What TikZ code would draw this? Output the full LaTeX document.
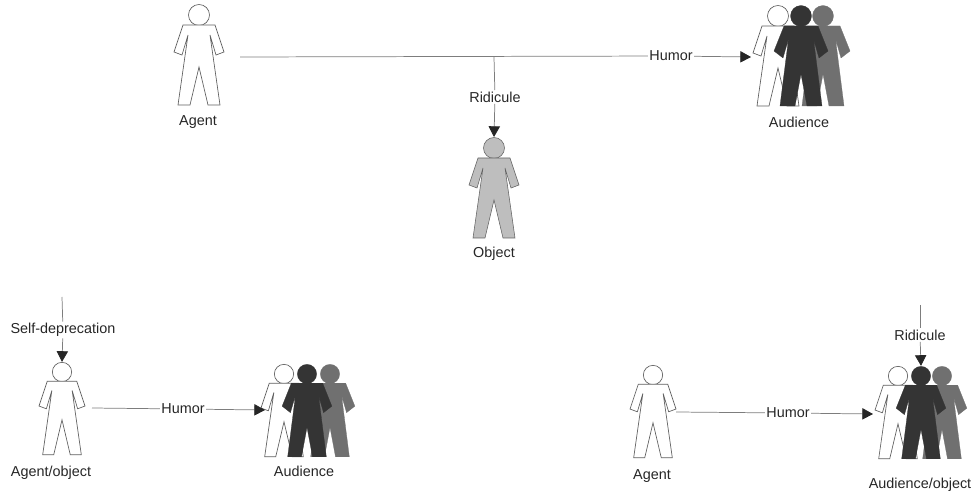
\documentclass[tikz,border=0pt]{standalone}
\usepackage{fontspec}
\setmainfont{Liberation Sans}
\usetikzlibrary{arrows.meta}
\definecolor{inkGrey}{RGB}{38,38,38}
\definecolor{lineGrey}{RGB}{125,125,125}
\definecolor{outlineGrey}{RGB}{95,95,95}
\definecolor{darkFig}{RGB}{52,52,52}
\definecolor{midFig}{RGB}{112,112,112}
\definecolor{objFig}{RGB}{190,190,190}
\tikzset{
  person/.pic={
    \path[pic actions] (0,0) circle (10.5);
    \path[pic actions] (-16,10) -- (16,10) -- (25,37) -- (17,40) -- (11,20)
      -- (21,90) -- (9,90) -- (0,52) -- (-9,90) -- (-21,90) -- (-11,20)
      -- (-17,40) -- (-25,37) -- cycle;
    \coordinate (-top) at (0,-11);
  },
  bulkyperson/.pic={
    \path[pic actions] (0,0) circle (10.5);
    \path[pic actions] (-17,10) -- (17,10) -- (27,35) -- (18,42) -- (12.5,23)
      -- (21,90) -- (6,90) -- (0,58) -- (-6,90) -- (-21,90) -- (-12.5,23)
      -- (-18,42) -- (-27,35) -- cycle;
    \coordinate (-top) at (0,-11);
  },
  blankfig/.style={draw=outlineGrey, fill=white, line width=0.5pt},
  objfig/.style={draw=outlineGrey, fill=objFig, line width=0.4pt},
  darkfig/.style={draw=darkFig, fill=darkFig, line width=0.2pt},
  midfig/.style={draw=midFig, fill=midFig, line width=0.2pt},
  lbl/.style={font=\fontsize{10.8}{13}\selectfont, text=inkGrey, inner sep=1pt},
  link/.style={draw=lineGrey, line width=0.55pt},
  tiplink/.style={link, -{Triangle[length=8pt, width=8.5pt, color=inkGrey]}},
}
\begin{document}
\begin{tikzpicture}[x=0.75pt, y=-0.75pt]
    \useasboundingbox (0,0) rectangle (972,495);
    % --- top group ---
    \pic (agentA) at (199,15) [blankfig] {person};
    \pic (crowdAa) at (778,16) [blankfig] {person};
    \pic (crowdAc) at (823,16) [midfig] {bulkyperson};
    \pic (crowdAb) at (801,16) [darkfig] {bulkyperson};
    \pic (objA) at (494,148) [objfig] {person};
    \node[lbl] (agentAlbl) at (198,122) {Agent};
    \node[lbl] (crowdAlbl) at (799,122) {Audience};
    \node[lbl] (objAlbl) at (494,254) {Object};
    \node[lbl] (humorA) at (671,56) {Humor};
    \node[lbl] (ridiculeA) at (495,97) {Ridicule};
    \coordinate (startA) at (240,57);
    \coordinate (forkA) at (494,57);
    \coordinate (tipA) at (751,57);
    \draw[link] (startA) -- (humorA);
    \draw[tiplink] (humorA) -- (tipA);
    \draw[link] (forkA) -- (ridiculeA);
    \draw[tiplink] (ridiculeA) -- (objA-top);
    % --- bottom left ---
    \pic[scale=0.92] (agentB) at (62,372) [blankfig] {person};
    \pic[scale=0.92] (crowdBa) at (284,374) [blankfig] {person};
    \pic[scale=0.92] (crowdBc) at (330,374) [midfig] {bulkyperson};
    \pic[scale=0.92] (crowdBb) at (307,374) [darkfig] {bulkyperson};
    \node[lbl] (agentBlbl) at (51,473) {Agent/object};
    \node[lbl] (crowdBlbl) at (304,471) {Audience};
    \node[lbl] (humorB) at (183,409) {Humor};
    \node[lbl] (selfB) at (63,330) {Self-deprecation};
    \coordinate (startB) at (92,408);
    \coordinate (tipB) at (265,410);
    \coordinate (aboveB) at (62,297);
    \draw[link] (startB) -- (humorB);
    \draw[tiplink] (humorB) -- (tipB);
    \draw[link] (aboveB) -- (selfB);
    \draw[tiplink] (selfB) -- (agentB-top);
    % --- bottom right ---
    \pic[scale=0.92] (agentC) at (653,375) [blankfig] {person};
    \pic[scale=0.92] (crowdCa) at (898,376) [blankfig] {person};
    \pic[scale=0.92] (crowdCc) at (942,376) [midfig] {bulkyperson};
    \pic[scale=0.92] (crowdCb) at (921,376) [darkfig] {bulkyperson};
    \node[lbl] (agentClbl) at (652,476) {Agent};
    \node[lbl] (crowdClbl) at (920,485) {Audience/object};
    \node[lbl] (humorC) at (788,413) {Humor};
    \node[lbl] (ridiculeC) at (920,335) {Ridicule};
    \coordinate (startC) at (676,412);
    \coordinate (tipC) at (873,414);
    \coordinate (aboveC) at (920,305);
    \draw[link] (startC) -- (humorC);
    \draw[tiplink] (humorC) -- (tipC);
    \draw[link] (aboveC) -- (ridiculeC);
    \draw[tiplink] (ridiculeC) -- (crowdCb-top);
\end{tikzpicture}
\end{document}
